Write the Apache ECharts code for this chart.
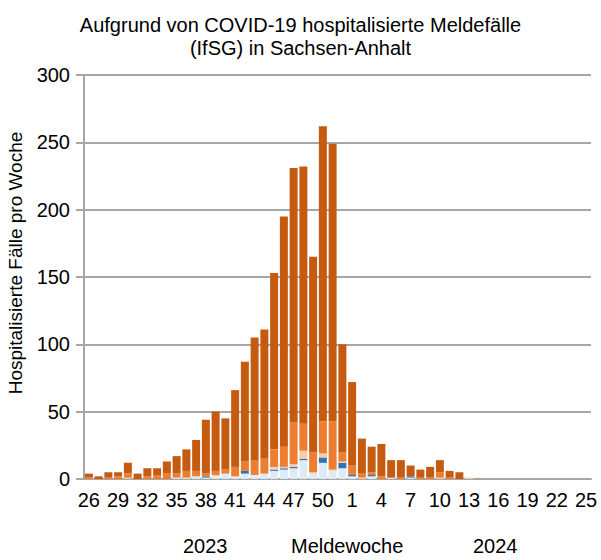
<!DOCTYPE html>
<html>
<head>
<meta charset="utf-8">
<script src="https://cdn.jsdelivr.net/npm/echarts@6/dist/echarts.min.js"></script>
<style>
  html, body { margin: 0; padding: 0; background: #fff; }
  #chart { width: 601px; height: 560px; }
</style>
</head>
<body>
<div id="chart"></div>
<script>
// Meldewochen 26/2023 .. 25/2024
var weeks = [];
for (var w = 26; w <= 52; w++) weeks.push(String(w));
for (var w2 = 1; w2 <= 25; w2++) weeks.push(String(w2));

// Werte je Farbe (von unten nach oben)
var hellblau = [0,0,0,0,0,0,0,0,0,1,1,2,1,2,4,2,4,3,4,6,7,8,14,4,12,6,8,
                2,0,2,0,1,0,1,0,0,0,0,0,0,0,0,0,0,0,0,0,0,0,0,0,0];
var dunkelblau = [0,0,0,0,0,0,0,0,0,0,0,0,1,0,0,0,2,0,0,1,1,1,1,0,4,0,4,
                  1,0,1,0,0,0,1,0,0,0,0,0,0,0,0,0,0,0,0,0,0,0,0,0,0];
var pfirsich = [0,0,0,0,1,0,0,0,0,0,0,0,0,1,0,0,0,0,0,2,1,2,6,1,3,1,1,
                0,1,0,0,0,0,0,0,0,1,0,0,1,0,0,0,0,0,0,0,0,0,0,0,0];
var orange = [1,0,1,2,3,0,2,3,4,3,5,4,2,3,3,7,7,11,11,13,15,31,20,15,24,36,7,
              7,3,2,2,0,1,0,1,1,4,1,0,0,0,0,0,0,0,0,0,0,0,0,0,0];
var dunkelorange = [3,2,4,3,8,4,6,5,9,13,16,23,40,44,38,57,74,91,96,131,171,189,191,145,219,206,80,
                    62,26,19,24,13,13,8,6,8,9,5,5,0,0,0,0,0,0,0,0,0,0,0,0,0];

var colors = ["#ddebf7", "#2e75b6", "#f8cbad", "#ed7d31", "#c55a11"];
var seriesData = [hellblau, dunkelblau, pfirsich, orange, dunkelorange];

var chart = echarts.init(document.getElementById("chart"), null, { renderer: "svg" });

var font = "Liberation Sans, Arial, sans-serif";

chart.setOption({
  animation: false,
  textStyle: { fontFamily: font },
  title: {
    text: "Aufgrund von COVID-19 hospitalisierte Meldefälle\n(IfSG) in Sachsen-Anhalt",
    left: "center",
    top: 8,
    textStyle: { fontSize: 20, fontWeight: "normal", color: "#000", lineHeight: 23, fontFamily: font }
  },
  grid: { left: 84, right: 10, top: 75, bottom: 81 },
  xAxis: {
    type: "category",
    data: weeks,
    axisLine: { lineStyle: { color: "#a6a6a6", width: 2 } },
    axisTick: { interval: 0, length: 6, lineStyle: { color: "#a6a6a6" } },
    axisLabel: { interval: 2, color: "#000", fontSize: 20, margin: 11, fontFamily: font },
    splitLine: { show: false }
  },
  yAxis: {
    type: "value",
    min: 0, max: 300, interval: 50,
    axisLine: { show: true, lineStyle: { color: "#a6a6a6", width: 2 } },
    axisTick: { show: true, inside: false, length: 8, lineStyle: { color: "#a6a6a6", width: 2 } },
    axisLabel: { color: "#000", fontSize: 20, margin: 14, fontFamily: font },
    splitLine: { lineStyle: { color: "#a6a6a6", width: 2 } }
  },
  graphic: [
    {
      type: "text", x: 15, y: 263, rotation: Math.PI / 2,
      style: { text: "Hospitalisierte Fälle pro Woche", fontSize: 19, fill: "#000", fontFamily: font,
               align: "center", verticalAlign: "middle" }
    },
    { type: "text", left: 183, top: 536, style: { text: "2023", fontSize: 20, fill: "#000", fontFamily: font } },
    { type: "text", left: 291, top: 536, style: { text: "Meldewoche", fontSize: 20, fill: "#000", fontFamily: font } },
    { type: "text", left: 473, top: 536, style: { text: "2024", fontSize: 20, fill: "#000", fontFamily: font } }
  ],
  series: seriesData.map(function (d, i) {
    return {
      type: "bar",
      stack: "alle",
      data: d,
      barCategoryGap: "18%",
      itemStyle: { color: colors[i] }
    };
  })
});
</script>
</body>
</html>
